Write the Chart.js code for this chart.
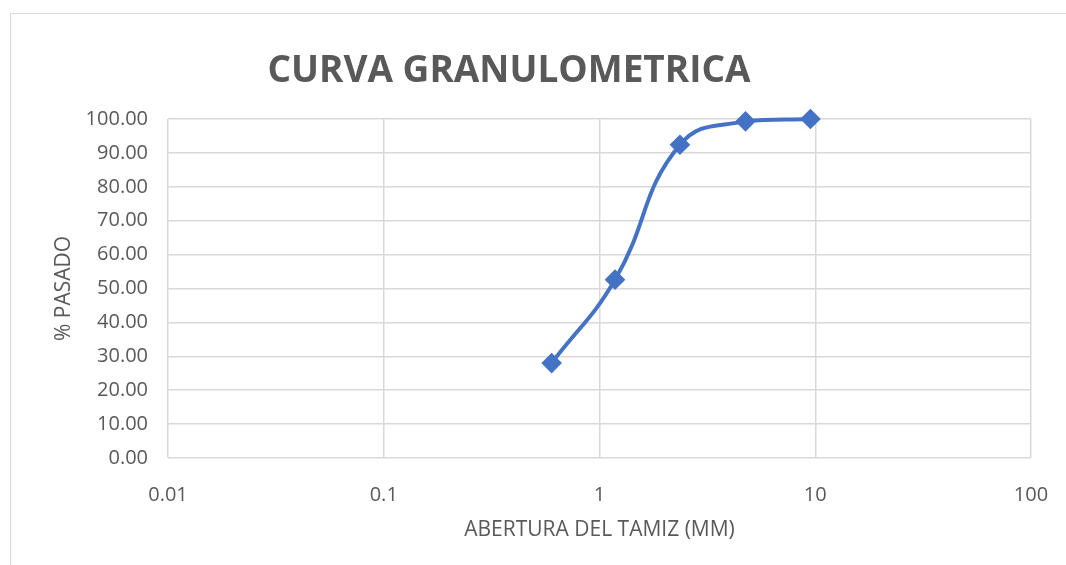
<!DOCTYPE html>
<html>
<head>
<meta charset="utf-8">
<script src="https://cdn.jsdelivr.net/npm/chart.js@4.4.0/dist/chart.umd.min.js"></script>
<style>
  body { margin: 0; background: #fff; }
  #wrap { position: relative; width: 1066px; height: 565px; }
  #frame { position: absolute; left: 10px; top: 13px; width: 1070px; height: 570px; border: 1px solid #d9d9d9; }
  canvas { position: absolute; left: 0; top: 0; }
</style>
</head>
<body>
<div id="wrap">
  <div id="frame"></div>
  <canvas id="myChart" width="1066" height="565"></canvas>
</div>
<script>
  // abertura del tamiz (mm) y % que pasa
  let aberturas = [0.6, 1.18, 2.36, 4.75, 9.5];
  let pasado = [28.0, 52.6, 92.4, 99.3, 100.0];
  let xTicks = [0.01, 0.1, 1, 10, 100];

  let gris = '#595959';
  let fuente = "'Open Sans', sans-serif";

  // titulo centrado como en la hoja de excel
  let tituloPlugin = {
    id: 'titulo',
    afterDraw: (chart) => {
      let ctx = chart.ctx;
      ctx.save();
      ctx.font = "bold 37px " + fuente;
      ctx.fillStyle = gris;
      ctx.textAlign = 'center';
      ctx.textBaseline = 'middle';
      ctx.fillText('CURVA GRANULOMETRICA', 509, 71);
      ctx.restore();
    }
  };

  let ctx = document.getElementById('myChart').getContext('2d');
  let chart = new Chart(ctx, {
    type: 'line',
    data: {
      datasets: [{
        label: '% pasado',
        data: aberturas.map((a, i) => ({ x: a, y: pasado[i] })),
        borderColor: '#4472C4',
        backgroundColor: '#4472C4',
        borderWidth: 4,
        pointStyle: 'rectRot',
        pointRadius: 7.5,
        pointHoverRadius: 7.5,
        tension: 0.45,
        clip: false,
        fill: false
      }]
    },
    plugins: [tituloPlugin],
    options: {
      responsive: false,
      animation: false,
      layout: { padding: { top: 119, right: 35, left: 0, bottom: 0 } },
      plugins: {
        legend: { display: false },
        tooltip: { enabled: false }
      },
      scales: {
        x: {
          type: 'logarithmic',
          min: 0.01,
          max: 100,
          afterBuildTicks: (axis) => {
            axis.ticks = xTicks.map(v => ({ value: v }));
          },
          afterFit: (axis) => {
            axis.height = 107;
            axis.paddingLeft = 0;
            axis.paddingRight = 0;
          },
          ticks: {
            color: gris,
            font: { family: fuente, size: 20 },
            padding: 25,
            autoSkip: false,
            maxRotation: 0,
            callback: (v) => String(v)
          },
          grid: { color: '#d9d9d9', lineWidth: 1.5, drawTicks: false },
          border: { display: false },
          title: {
            display: true,
            text: 'ABERTURA DEL TAMIZ (MM)',
            color: gris,
            font: { family: fuente, size: 21 },
            padding: { top: 0, bottom: 22 }
          }
        },
        y: {
          min: 0,
          max: 100,
          afterFit: (axis) => { axis.width = 168; },
          ticks: {
            stepSize: 10,
            color: gris,
            font: { family: fuente, size: 20 },
            padding: 20,
            callback: (v) => v.toFixed(2)
          },
          grid: { color: '#d9d9d9', lineWidth: 1.5, drawTicks: false },
          border: { display: false },
          title: {
            display: true,
            text: '% PASADO',
            color: gris,
            font: { family: fuente, size: 21 },
            padding: { top: 51, bottom: 0 }
          }
        }
      }
    }
  });
</script>
</body>
</html>
